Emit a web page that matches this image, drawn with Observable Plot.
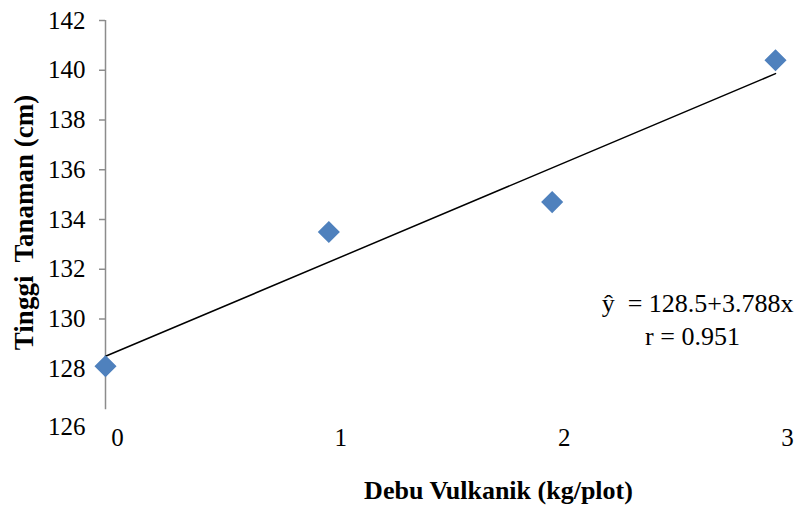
<!DOCTYPE html>
<html>
<head>
<meta charset="utf-8">
<script src="https://cdn.jsdelivr.net/npm/d3@7"></script>
<script src="https://cdn.jsdelivr.net/npm/@observablehq/plot@0.6"></script>
<style>
  html, body { margin: 0; padding: 0; background: #fff; }
  svg { display: block; }
  svg text { font-family: "Liberation Serif", "Times New Roman", serif !important; }
</style>
</head>
<body>
<div id="chart"></div>
<script>
const doses = [0, 1, 2, 3];
const heights = [128.1, 133.5, 134.7, 140.4];
const yTicks = [126, 128, 130, 132, 134, 136, 138, 140, 142];
const xTicks = [0, 1, 2, 3];
const intercept = 128.5;
const slope = 3.788;
const eqLines = ["ŷ  = 128.5+3.788x", "r = 0.951"];
const eqY = [130.6, 129.3];

const pts = doses.map((d, i) => ({x: d, y: heights[i]}));
const fit = [0, 3].map(x => ({x, y: intercept + slope * x}));
const font = "Liberation Serif";

const chart = Plot.plot({
  width: 795,
  height: 514,
  marginLeft: 105,
  marginRight: 20,
  marginTop: 20,
  marginBottom: 96,
  style: {fontFamily: font, background: "#fff"},
  x: {domain: [0, 3]},
  y: {domain: [126, 142]},
  marks: [
    Plot.ruleX([0], {y1: 142, y2: 126.35, stroke: "#8c8c8c", strokeWidth: 1.5}),
    Plot.axisY({ticks: yTicks.filter(t => t > 126), tickFormat: d => String(d), tickSize: 6, tickPadding: 14, stroke: "#8c8c8c", strokeWidth: 1.5, fontSize: 25, fontFamily: font, fill: "#000", label: null}),
    Plot.axisY({ticks: [126], tickFormat: d => String(d), tickSize: 0, tickPadding: 20, fontSize: 25, fontFamily: font, fill: "#000", label: null, dy: 8}),
    Plot.axisX({ticks: xTicks, tickFormat: d => String(d), tickSize: 0, tickPadding: 10, dx: 12, fontSize: 25, fontFamily: font, fill: "#000", label: null}),
    Plot.line(fit, {x: "x", y: "y", stroke: "#000", strokeWidth: 1.5}),
    Plot.dot(pts, {x: "x", y: "y", symbol: "diamond2", r: 9, fill: "#4f81bd", stroke: "#4f81bd"}),
    Plot.text([eqLines[0]], {x: 3, y: eqY[0], textAnchor: "end", dx: 18, fontSize: 26, fontFamily: font, fill: "#000"}),
    Plot.text([eqLines[1]], {x: 3, y: eqY[1], textAnchor: "middle", dx: -83, fontSize: 26, fontFamily: font, fill: "#000"}),
    Plot.text(["Tinggi  Tanaman (cm)"], {frameAnchor: "left", textAnchor: "middle", dx: -81, dy: 3, rotate: -90, fontSize: 27, fontFamily: font, fontWeight: "bold", fill: "#000"}),
    Plot.text(["Debu Vulkanik (kg/plot)"], {frameAnchor: "bottom", textAnchor: "middle", dx: 58, dy: 80, fontSize: 26, fontFamily: font, fontWeight: "bold", fill: "#000"})
  ]
});
document.getElementById("chart").appendChild(chart);
</script>
</body>
</html>
